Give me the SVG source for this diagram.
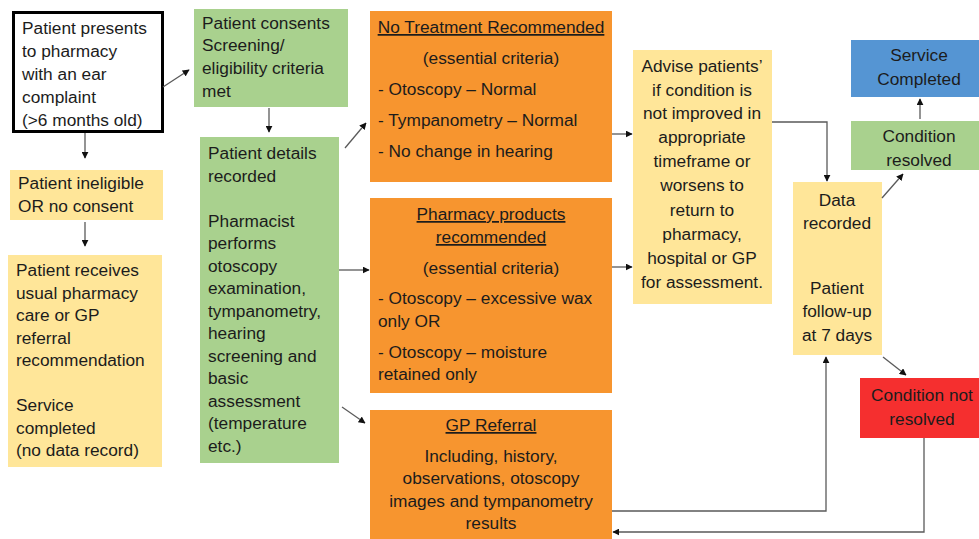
<svg xmlns="http://www.w3.org/2000/svg" width="979" height="539" viewBox="0 0 979 539">
  <defs>
    <marker id="arr" viewBox="0 0 10 10" refX="9" refY="5" markerWidth="7" markerHeight="7" markerUnits="userSpaceOnUse" orient="auto">
      <path d="M0,0 L10,5 L0,10 z" fill="#111"/>
    </marker>
    <style>
      text { font-family: "Liberation Sans", Arial, sans-serif; font-size: 17.3px; fill: #1c1c1c; }
      .c { text-anchor: middle; }
      .u { text-decoration: underline; }
      .green { fill: #a9d18e; }
      .yellow { fill: #ffe699; }
      .orange { fill: #f7952f; }
      .blue { fill: #5595d3; }
      .red { fill: #f52f2f; }
      .conn path { fill: none; stroke: #5a5a5a; stroke-width: 1.3; }
    </style>
  </defs>
  <rect width="979" height="539" fill="#ffffff"/>

  <!-- entry point -->
  <g id="presents">
    <rect x="13.5" y="12.5" width="149" height="119" fill="#ffffff" stroke="#000" stroke-width="3"/>
    <text x="22" y="34">Patient presents</text>
    <text x="22" y="57">to pharmacy</text>
    <text x="22" y="80">with an ear</text>
    <text x="22" y="103">complaint</text>
    <text x="22" y="126">(&gt;6 months old)</text>
  </g>

  <g id="ineligible">
    <rect class="yellow" x="10" y="170" width="153" height="50"/>
    <text x="18" y="189">Patient ineligible</text>
    <text x="18" y="212">OR no consent</text>
  </g>

  <g id="usual-care">
    <rect class="yellow" x="8" y="255" width="154" height="212"/>
    <text x="16" y="276">Patient receives</text>
    <text x="16" y="299">usual pharmacy</text>
    <text x="16" y="321">care or GP</text>
    <text x="16" y="344">referral</text>
    <text x="16" y="366">recommendation</text>
    <text x="16" y="411">Service</text>
    <text x="16" y="434">completed</text>
    <text x="16" y="456">(no data record)</text>
  </g>

  <g id="consents">
    <rect class="green" x="194" y="9" width="154" height="98"/>
    <text x="202" y="29">Patient consents</text>
    <text x="202" y="51">Screening/</text>
    <text x="202" y="74">eligibility criteria</text>
    <text x="202" y="97">met</text>
  </g>

  <g id="details">
    <rect class="green" x="200" y="137" width="139" height="326"/>
    <text x="208" y="159">Patient details</text>
    <text x="208" y="182">recorded</text>
    <text x="208" y="227">Pharmacist</text>
    <text x="208" y="249">performs</text>
    <text x="208" y="272">otoscopy</text>
    <text x="208" y="294">examination,</text>
    <text x="208" y="317">tympanometry,</text>
    <text x="208" y="339">hearing</text>
    <text x="208" y="362">screening and</text>
    <text x="208" y="384">basic</text>
    <text x="208" y="407">assessment</text>
    <text x="208" y="429">(temperature</text>
    <text x="208" y="452">etc.)</text>
  </g>

  <g id="no-treatment">
    <rect class="orange" x="370" y="11" width="242" height="171"/>
    <text class="c u" x="491" y="33">No Treatment Recommended</text>
    <text class="c" x="491" y="64">(essential criteria)</text>
    <text x="378" y="95">- Otoscopy – Normal</text>
    <text x="378" y="126">- Tympanometry – Normal</text>
    <text x="378" y="157">- No change in hearing</text>
  </g>

  <g id="products">
    <rect class="orange" x="370" y="198" width="242" height="195"/>
    <text class="c u" x="491" y="220">Pharmacy products</text>
    <text class="c u" x="491" y="243">recommended</text>
    <text class="c" x="491" y="274">(essential criteria)</text>
    <text x="378" y="304">- Otoscopy – excessive wax</text>
    <text x="378" y="327">only OR</text>
    <text x="378" y="358">- Otoscopy – moisture</text>
    <text x="378" y="380">retained only</text>
  </g>

  <g id="gp-referral">
    <rect class="orange" x="370" y="410" width="242" height="129"/>
    <text class="c u" x="491" y="431">GP Referral</text>
    <text class="c" x="491" y="462">Including, history,</text>
    <text class="c" x="491" y="484">observations, otoscopy</text>
    <text class="c" x="491" y="507">images and tympanometry</text>
    <text class="c" x="491" y="529">results</text>
  </g>

  <g id="advise">
    <rect class="yellow" x="633" y="50" width="139" height="254"/>
    <text class="c" x="702" y="72">Advise patients’</text>
    <text class="c" x="702" y="96">if condition is</text>
    <text class="c" x="702" y="119">not improved in</text>
    <text class="c" x="702" y="143">appropriate</text>
    <text class="c" x="702" y="167">timeframe or</text>
    <text class="c" x="702" y="191">worsens to</text>
    <text class="c" x="702" y="216">return to</text>
    <text class="c" x="702" y="240">pharmacy,</text>
    <text class="c" x="702" y="264">hospital or GP</text>
    <text class="c" x="702" y="288">for assessment.</text>
  </g>

  <g id="data-recorded">
    <rect class="yellow" x="793" y="182" width="89" height="173"/>
    <text class="c" x="837" y="206">Data</text>
    <text class="c" x="837" y="229">recorded</text>
    <text class="c" x="837" y="294">Patient</text>
    <text class="c" x="837" y="317">follow-up</text>
    <text class="c" x="837" y="341">at 7 days</text>
  </g>

  <g id="service-completed">
    <rect class="blue" x="851" y="40" width="128" height="57"/>
    <text class="c" x="919" y="61">Service</text>
    <text class="c" x="919" y="85">Completed</text>
  </g>

  <g id="condition-resolved">
    <rect class="green" x="851" y="121" width="128" height="49"/>
    <text class="c" x="919" y="142">Condition</text>
    <text class="c" x="919" y="166">resolved</text>
  </g>

  <g id="condition-not-resolved">
    <rect class="red" x="860" y="378" width="119" height="60"/>
    <text class="c" x="922" y="401">Condition not</text>
    <text class="c" x="922" y="425">resolved</text>
  </g>

  <g id="connectors" class="conn">
    <path d="M163,87 L189,70" marker-end="url(#arr)"/>
    <path d="M85,133 L85,158" marker-end="url(#arr)"/>
    <path d="M85,222 L85,246" marker-end="url(#arr)"/>
    <path d="M269,108 L269,132" marker-end="url(#arr)"/>
    <path d="M345,148 L366,123" marker-end="url(#arr)"/>
    <path d="M339,270 L369,270" marker-end="url(#arr)"/>
    <path d="M342,407 L365,423" marker-end="url(#arr)"/>
    <path d="M612,134 L632,134" marker-end="url(#arr)"/>
    <path d="M612,267 L632,267" marker-end="url(#arr)"/>
    <path d="M772,122 L827,122 L827,181" marker-end="url(#arr)"/>
    <path d="M882,198 L903,174" marker-end="url(#arr)"/>
    <path d="M920,119 L920,99" marker-end="url(#arr)"/>
    <path d="M883,357 L906,375" marker-end="url(#arr)"/>
    <path d="M612,511 L826,511 L826,357" marker-end="url(#arr)"/>
    <path d="M924,438 L924,532 L613,532" marker-end="url(#arr)"/>
  </g>
</svg>
